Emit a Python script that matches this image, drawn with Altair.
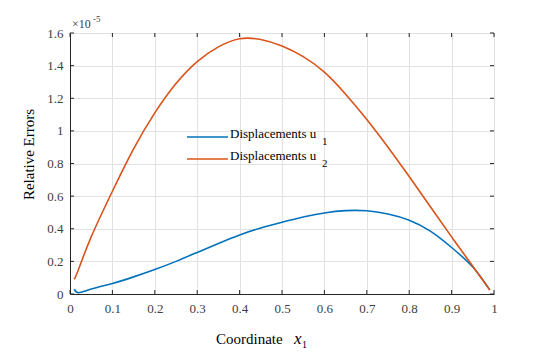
import altair as alt
import pandas as pd

# ---- data ----
x_vals = [0.01, 0.02, 0.05, 0.1, 0.15, 0.2, 0.25, 0.3, 0.35, 0.4, 0.45, 0.5,
          0.55, 0.6, 0.65, 0.7, 0.75, 0.8, 0.85, 0.9, 0.95, 0.99]
u1_vals = [0.03, 0.008, 0.03, 0.065, 0.105, 0.15, 0.20, 0.255, 0.31, 0.362, 0.405, 0.44,
           0.472, 0.497, 0.511, 0.51, 0.49, 0.452, 0.385, 0.285, 0.165, 0.025]
u2_vals = [0.09, 0.15, 0.35, 0.63, 0.89, 1.11, 1.29, 1.425, 1.515, 1.565, 1.56, 1.52,
           1.455, 1.36, 1.225, 1.07, 0.90, 0.72, 0.535, 0.35, 0.17, 0.025]
series = ["Displacements u1", "Displacements u2"]
colors = ["#0072BD", "#D95319"]
x_ticks = [0, 0.1, 0.2, 0.3, 0.4, 0.5, 0.6, 0.7, 0.8, 0.9, 1]
y_ticks = [0, 0.2, 0.4, 0.6, 0.8, 1, 1.2, 1.4, 1.6]

W, H = 424, 261
FONT = "Liberation Serif"
AX = "#262626"

df = pd.DataFrame({
    "x": x_vals * 2,
    "y": u1_vals + u2_vals,
    "series": [series[0]] * len(x_vals) + [series[1]] * len(x_vals),
})
xt = pd.DataFrame({"x": x_ticks})
yt = pd.DataFrame({"y": y_ticks})

xscale = alt.Scale(domain=[0, 1], nice=False, zero=False)
yscale = alt.Scale(domain=[0, 1.6], nice=False, zero=False)

lab_expr = "datum.value == 0 ? '0' : datum.value == 1 ? '1' : format(datum.value, '.1f')"
xaxis = alt.Axis(
    values=x_ticks, title=None, grid=True, gridColor="#e2e2e2",
    tickSize=0, domainColor=AX, labelColor="#404040", labelFont=FONT,
    labelFontSize=13, labelPadding=8, labelFlush=False, labelExpr=lab_expr)
yaxis = alt.Axis(
    values=y_ticks, title="Relative Errors", grid=True, gridColor="#e2e2e2",
    tickSize=0, domainColor=AX, labelColor="#404040", labelFont=FONT,
    labelFontSize=13, labelPadding=7, labelFlush=False, labelExpr=lab_expr,
    titleFont=FONT, titleFontSize=15, titleFontWeight="normal", titleColor="#000000",
    titleAngle=270, titleX=-37, titleY=121, titleAlign="center", titleBaseline="alphabetic")

lines = alt.Chart(df).mark_line(strokeWidth=1.6, interpolate="natural").encode(
    x=alt.X("x:Q", scale=xscale, axis=xaxis),
    y=alt.Y("y:Q", scale=yscale, axis=yaxis),
    color=alt.Color("series:N", scale=alt.Scale(domain=series, range=colors), legend=None),
)

tick_len = 4
xb = alt.Chart(xt).mark_rule(color=AX, strokeWidth=1).encode(
    x=alt.X("x:Q", scale=xscale, axis=xaxis), y=alt.value(H), y2=alt.value(H - tick_len))
xtop = alt.Chart(xt).mark_rule(color=AX, strokeWidth=1).encode(
    x=alt.X("x:Q", scale=xscale, axis=xaxis), y=alt.value(0), y2=alt.value(tick_len))
yl = alt.Chart(yt).mark_rule(color=AX, strokeWidth=1).encode(
    y=alt.Y("y:Q", scale=yscale, axis=yaxis), x=alt.value(0), x2=alt.value(tick_len))
yr = alt.Chart(yt).mark_rule(color=AX, strokeWidth=1).encode(
    y=alt.Y("y:Q", scale=yscale, axis=yaxis), x=alt.value(W), x2=alt.value(W - tick_len))

one = alt.Data(values=[{"a": 1}])

def txt(s, x, y, size, **kw):
    return alt.Chart(one).mark_text(font=FONT, fontSize=size, align="left", **kw).encode(
        x=alt.value(x), y=alt.value(y), text=alt.value(s))

# x-axis title: Coordinate  x_1
xt1 = txt("Coordinate", 146, 311, 15, baseline="alphabetic", color="#000000")
xt2 = txt("x", 224, 311, 17, baseline="alphabetic", fontStyle="italic", color="#000000")
xt3 = txt("1", 232, 315, 10, baseline="alphabetic", color="#000000")

# exponent label
ex1 = txt("\u00d710", 2, -5, 12, baseline="alphabetic", color="#404040")
ex2 = txt("-5", 23, -11, 9, baseline="alphabetic", color="#404040")

# legend (no box)
legend_layers = []
ly = [104, 126]
for i, (name, col) in enumerate(zip(series, colors)):
    legend_layers.append(
        alt.Chart(one).mark_rule(color=col, strokeWidth=1.6).encode(
            x=alt.value(117), x2=alt.value(158), y=alt.value(ly[i])))
    legend_layers.append(txt(name[:-1], 160, ly[i] - 3, 13, baseline="middle", color="#000000"))
    legend_layers.append(txt(name[-1], 252, ly[i] + 5, 11, baseline="middle", color="#000000"))

chart = alt.layer(
    lines, xb, xtop, yl, yr, xt1, xt2, xt3, ex1, ex2, *legend_layers
).properties(
    width=W, height=H,
    autosize=alt.AutoSizeParams(type="none"),
    padding={"left": 62, "top": 25, "right": 30, "bottom": 60},
).configure_view(stroke=AX, strokeWidth=1).configure(background="white")

chart.save("out.html", embed_options={"renderer": "svg", "actions": False})
